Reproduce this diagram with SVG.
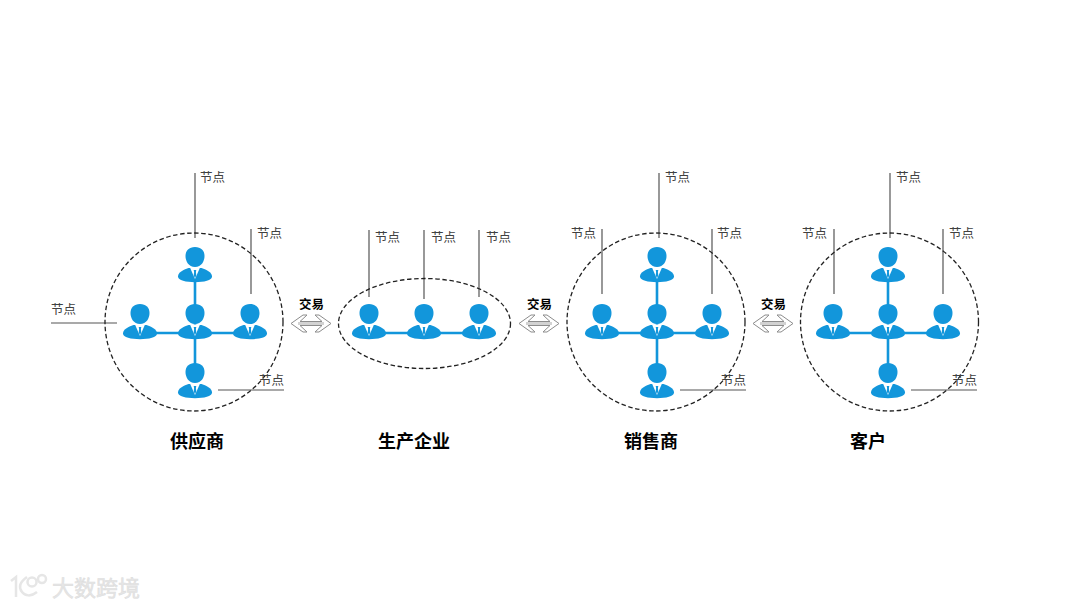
<svg xmlns="http://www.w3.org/2000/svg" width="1080" height="608" viewBox="0 0 1080 608">
<style>
text{font-family:"Noto Sans CJK SC","Liberation Sans",sans-serif}
.n{font-size:12.500px;fill:#404040}
.t{font-size:12.500px;font-weight:700;fill:#000;text-anchor:middle}
.h{font-size:18px;font-weight:700;fill:#000;text-anchor:middle}
.d{fill:none;stroke:#222;stroke-width:1.300;stroke-dasharray:4.500 2.600}
.l{fill:none;stroke:#555;stroke-width:1.200}
.c{fill:none;stroke:#1296db;stroke-width:2.600}
.w{font-size:22px;fill:#e6e6e6;stroke:#dcdcdc;stroke-width:.5}
</style>
<defs>
<g id="p">
<path d="M0 0C6 0 9.500 3.500 9.500 9C9.500 14 6.500 20 0 20C-6.500 20 -9.500 14 -9.500 9C-9.500 3.500 -6 0 0 0Z" fill="#1296db"/>
<path d="M-6.500 21C-12 23 -17 25.500 -17 29.500C-17 33.500 -9 35.200 0 35.200C9 35.200 17 33.500 17 29.500C17 25.500 12 23 6.500 21Z" fill="#1296db"/>
<path d="M-5 20.500L0 32L5 20.500Z" fill="#fff"/>
<path d="M-1.300 23H1.300L.9 25L1.300 28.500L0 31L-1.300 28.500L-.9 25Z" fill="#1296db"/>
</g>
<g id="a">
<path d="M0 8.500L12 0H16L9 6.500H31L24 0H28L40 8.500L28 17H24L31 10.500H9L16 17H12Z" fill="#fff" stroke="#8c8c8c" stroke-width="1"/>
<path d="M7 8.500H33" stroke="#d2d2d2" stroke-width="3"/>
</g>
</defs>
<g id="connectors">
<path class="c" d="M195 275V375M140 333H250"/>
<path class="c" d="M369 333H479"/>
<path class="c" d="M657 275V375M602 333H712"/>
<path class="c" d="M888 275V375M833 333H943"/>
<path class="l" d="M195 173V238M251 229V294M51 323H117M218 390H284"/>
<path class="l" d="M369 230V297M424 230V299M479 230V297"/>
<path class="l" d="M659 173V238M712 229V294M602 229V294M680 390H746"/>
<path class="l" d="M890 173V238M943 229V294M834 229V294M911 390H977"/>
</g>
<g id="boundaries">
<ellipse class="d" cx="194" cy="322" rx="89" ry="89"/>
<ellipse class="d" cx="424.500" cy="323.500" rx="86" ry="45"/>
<ellipse class="d" cx="656" cy="322" rx="89" ry="89"/>
<ellipse class="d" cx="889.500" cy="322" rx="89" ry="89"/>
</g>
<g id="supplier">
<use href="#p" x="195" y="247"/><use href="#p" x="140" y="304"/><use href="#p" x="195" y="304"/><use href="#p" x="250" y="304"/><use href="#p" x="195" y="363"/>
<text class="n" x="200" y="181.500">节点</text><text class="n" x="257" y="237.500">节点</text><text class="n" x="51" y="314">节点</text><text class="n" x="259" y="385">节点</text>
<text class="h" x="197" y="448">供应商</text>
</g>
<g id="producer">
<use href="#p" x="369" y="304"/><use href="#p" x="424" y="304"/><use href="#p" x="479" y="304"/>
<text class="n" x="375" y="241.500">节点</text><text class="n" x="431" y="241.500">节点</text><text class="n" x="486" y="241.500">节点</text>
<text class="h" x="414" y="448">生产企业</text>
</g>
<g id="seller">
<use href="#p" x="657" y="247"/><use href="#p" x="602" y="304"/><use href="#p" x="657" y="304"/><use href="#p" x="712" y="304"/><use href="#p" x="657" y="363"/>
<text class="n" x="665" y="181.500">节点</text><text class="n" x="717" y="237.500">节点</text><text class="n" x="571" y="237.500">节点</text><text class="n" x="721" y="385">节点</text>
<text class="h" x="651" y="448">销售商</text>
</g>
<g id="customer">
<use href="#p" x="888" y="247"/><use href="#p" x="833" y="304"/><use href="#p" x="888" y="304"/><use href="#p" x="943" y="304"/><use href="#p" x="888" y="363"/>
<text class="n" x="896" y="181.500">节点</text><text class="n" x="949" y="237.500">节点</text><text class="n" x="802" y="237.500">节点</text><text class="n" x="952" y="385">节点</text>
<text class="h" x="868" y="448">客户</text>
</g>
<g id="trade-1"><use href="#a" x="291" y="315"/><text class="t" x="311.500" y="309">交易</text></g>
<g id="trade-2"><use href="#a" x="519" y="315"/><text class="t" x="539.500" y="309">交易</text></g>
<g id="trade-3"><use href="#a" x="753" y="315"/><text class="t" x="773.500" y="309">交易</text></g>
<g id="watermark">
<g fill="none" stroke="#e6e6e6" stroke-width="2.500">
<path d="M11 581L16 577V597M27 577C20 582 18 587 22 592C25 596 31 597 37 592"/>
<circle cx="32" cy="582" r="4.500"/><circle cx="42" cy="579" r="4"/>
</g>
<text class="w" x="52" y="596">大数跨境</text>
</g>
</svg>
